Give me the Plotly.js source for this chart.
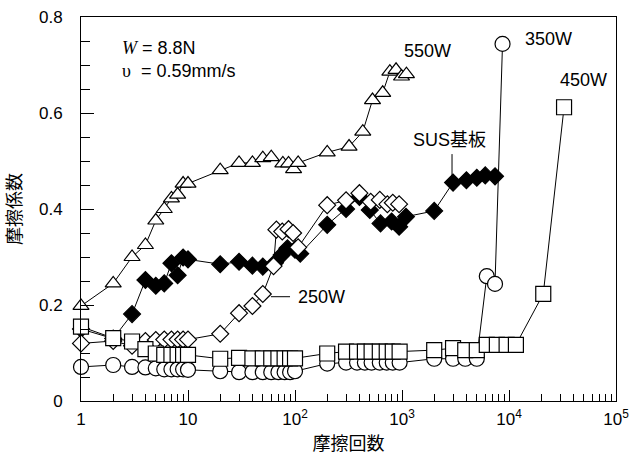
<!DOCTYPE html>
<html>
<head>
<meta charset="utf-8">
<script src="https://cdn.plot.ly/plotly-3.0.1.min.js"></script>
<style>html,body{margin:0;padding:0;background:#fff;}#chart{width:639px;height:458px;}</style>
</head>
<body>
<div id="chart"></div>
<script>
// 550W (open triangles)
const tri_x = [1,2,3,4,5,6,7,8,9,10,20,30,40,50,60,77,87,97,107,200,320,430,530,660,770,880,990,1100];
const tri_y = [0.198,0.245,0.300,0.325,0.376,0.400,0.422,0.430,0.453,0.453,0.481,0.496,0.496,0.506,0.508,0.495,0.495,0.483,0.496,0.518,0.530,0.561,0.627,0.642,0.686,0.690,0.676,0.681];
// SUS基板 (filled diamonds)
const sus_x = [1,2,3,4,5,6,7,8,9,10,20,30,40,50,65,75,85,100,112,200,300,400,500,630,800,940,1090,2000,3000,4000,5000,6000,7400];
const sus_y = [0.150,0.130,0.181,0.252,0.240,0.245,0.287,0.262,0.299,0.295,0.285,0.290,0.282,0.280,0.288,0.304,0.318,0.315,0.307,0.367,0.400,0.425,0.398,0.370,0.374,0.363,0.384,0.396,0.455,0.460,0.465,0.470,0.468];
// 250W (open diamonds)
const w250_x = [1,2,3,4,5,6,7,8,9,10,20,30,40,50,63,67,76,87,96,107,200,300,400,510,620,730,820,940];
const w250_y = [0.120,0.125,0.115,0.125,0.127,0.128,0.128,0.128,0.128,0.128,0.140,0.183,0.198,0.223,0.281,0.357,0.353,0.358,0.350,0.320,0.408,0.418,0.433,0.415,0.419,0.410,0.413,0.410];
// 350W (open circles)
const w350_x = [1,2,3,4,5,6,7,8,9,10,20,30,40,50,60,70,80,90,100,200,300,380,450,520,620,720,820,950,2000,3000,3900,5000,6200,7400,8700];
const w350_y = [0.071,0.075,0.071,0.070,0.068,0.066,0.066,0.066,0.066,0.065,0.062,0.060,0.060,0.060,0.060,0.060,0.060,0.060,0.062,0.078,0.080,0.080,0.080,0.080,0.080,0.080,0.080,0.080,0.088,0.088,0.088,0.088,0.260,0.244,0.744];
// 450W (open squares)
const w450_x = [1,2,3,4,5,6,7,8,9,10,20,30,40,50,60,70,80,90,100,200,300,380,450,520,620,720,820,950,2000,3000,3900,5000,6200,7700,9500,11600,20900,32700];
const w450_y = [0.155,0.131,0.124,0.108,0.099,0.096,0.096,0.096,0.096,0.096,0.088,0.090,0.089,0.089,0.089,0.089,0.089,0.089,0.089,0.099,0.103,0.103,0.103,0.103,0.103,0.103,0.103,0.103,0.106,0.110,0.106,0.106,0.117,0.117,0.117,0.117,0.223,0.612];

const xTickVals = [1,10,100,1000,10000,100000];
const xTickText = ['1','10','10<sup>2</sup>','10<sup>3</sup>','10<sup>4</sup>','10<sup>5</sup>'];
const xMinorVals = [];
for (let d = 1; d <= 10000; d *= 10) { for (let k = 2; k <= 9; k++) xMinorVals.push(k*d); }

const LAT = 'Liberation Sans, Arial, sans-serif';
const CJK = 'Liberation Sans, Noto Sans CJK JP, sans-serif';

function tr(x, y, symbol, fill, size) {
  return {x: x, y: y, type: 'scatter', mode: 'lines+markers',
    line: {color: '#000', width: 1},
    marker: {symbol: symbol, size: size, color: fill, line: {color: '#000', width: 1.2}},
    showlegend: false, cliponaxis: false};
}

const data = [
  tr(sus_x, sus_y, 'diamond', '#000', 13),
  tr(w250_x, w250_y, 'diamond', '#fff', 13),
  tr(w350_x, w350_y, 'circle', '#fff', 15),
  tr(w450_x, w450_y, 'square', '#fff', 15),
  tr(tri_x, tri_y, 'triangle-up', '#fff', 14)
];

const ann = (x, y, text, extra) => Object.assign({xref: 'paper', yref: 'paper', x: x, y: y, text: text,
  showarrow: false, xanchor: 'left', yanchor: 'middle', font: {family: LAT, size: 18, color: '#000'}}, extra || {});

const layout = {
  width: 639, height: 458,
  margin: {l: 81, r: 23, t: 17, b: 57},
  paper_bgcolor: '#fff', plot_bgcolor: '#fff',
  font: {family: LAT, size: 17, color: '#000'},
  xaxis: {
    type: 'log', range: [0, 5],
    showline: true, mirror: true, linecolor: '#000', linewidth: 1,
    showgrid: false, zeroline: false,
    tickmode: 'array', tickvals: xTickVals, ticktext: xTickText,
    ticks: 'inside', ticklen: 11, tickcolor: '#000', tickwidth: 1,
    minor: {tickmode: 'array', tickvals: xMinorVals, ticks: 'inside', ticklen: 7, tickcolor: '#000', tickwidth: 1, showgrid: false},
    tickfont: {family: LAT, size: 17},
    ticklabelstandoff: 3,
    title: {text: '摩擦回数', font: {family: CJK, size: 18}, standoff: 8}
  },
  yaxis: {
    range: [0, 0.8],
    showline: true, mirror: true, linecolor: '#000', linewidth: 1,
    showgrid: false, zeroline: false,
    tickmode: 'linear', tick0: 0, dtick: 0.2,
    ticks: 'inside', ticklen: 13, tickcolor: '#000', tickwidth: 1,
    minor: {dtick: 0.05, ticks: 'inside', ticklen: 9, tickcolor: '#000', tickwidth: 1, showgrid: false},
    tickfont: {family: LAT, size: 17},
    ticklabelstandoff: 14,
    title: {text: '摩擦係数', font: {family: CJK, size: 18}, standoff: 12}
  },
  annotations: [
    ann(0.0729, 0.919, '<span style="font-family:Liberation Serif;font-style:italic">W</span> = 8.8N'),
    ann(0.0729, 0.859, '<span style="font-family:Liberation Serif">υ</span>  = 0.59mm/s'),
    ann(0.600, 0.911, '550W'),
    ann(0.826, 0.943, '350W'),
    ann(0.8916, 0.836, '450W'),
    ann(0.617, 0.680, 'SUS基板', {font: {family: CJK, size: 18, color: '#000'}}),
    ann(0.402, 0.271, '250W')
  ],
  shapes: [
    {type: 'line', xref: 'paper', yref: 'paper', x0: 0.6935, x1: 0.6935, y0: 0.643, y1: 0.583, line: {color: '#000', width: 1}},
    {type: 'line', xref: 'paper', yref: 'paper', x0: 0.355, x1: 0.3907, y0: 0.2716, y1: 0.2716, line: {color: '#000', width: 1}}
  ]
};

Plotly.newPlot('chart', data, layout, {staticPlot: true, displayModeBar: false});
</script>
</body>
</html>
